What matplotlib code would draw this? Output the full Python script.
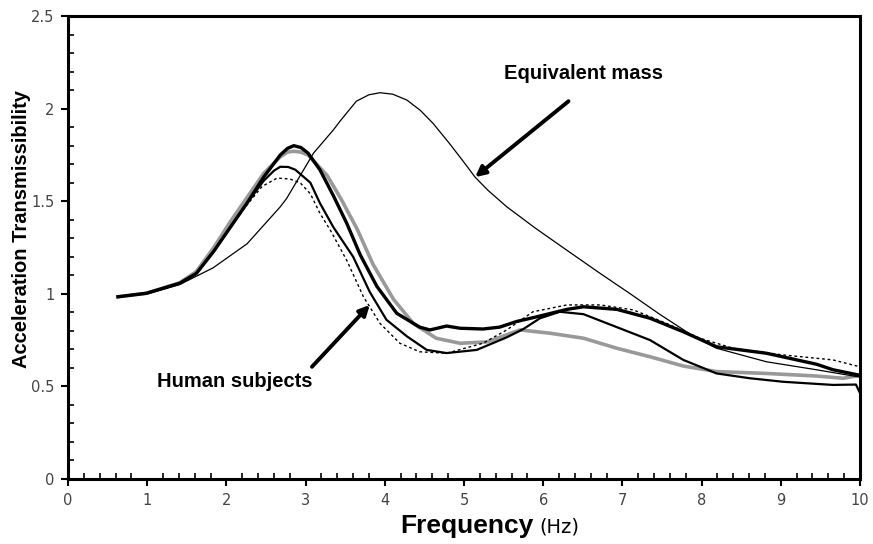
import matplotlib
matplotlib.use('Agg')
import matplotlib.pyplot as plt
from matplotlib.ticker import MultipleLocator

# equivalent mass (thin line)
eq_f = [0.63, 1.0, 1.41, 1.83, 2.26, 2.68, 2.76, 3.10, 3.22, 3.35, 3.43, 3.64, 3.80, 3.94, 4.10, 4.28,
        4.45, 4.61, 4.82, 5.0, 5.14, 5.30, 5.54, 5.90, 6.25, 6.72, 7.10, 7.47, 7.9, 8.19, 8.82, 9.45, 10.0]
eq_t = [0.985, 1.0, 1.05, 1.14, 1.27, 1.47, 1.515, 1.76, 1.82, 1.885, 1.93, 2.04, 2.075, 2.086, 2.078, 2.046,
        1.99, 1.92, 1.81, 1.71, 1.63, 1.56, 1.47, 1.355, 1.25, 1.11, 1.0, 0.89, 0.77, 0.706, 0.633, 0.59, 0.55]

# human subjects
hs1_f = [0.63, 0.99, 1.41, 1.62, 1.84, 2.05, 2.26, 2.47, 2.68, 2.77, 2.85, 2.94, 3.03, 3.18, 3.35, 3.52,
         3.69, 3.90, 4.15, 4.44, 4.57, 4.78, 4.95, 5.24, 5.45, 5.66, 5.92, 6.30, 6.51, 6.93, 7.35, 7.77,
         8.19, 8.82, 9.45, 9.66, 10.0]
hs1_t = [0.984, 1.003, 1.057, 1.11, 1.23, 1.36, 1.49, 1.63, 1.75, 1.785, 1.80, 1.79, 1.76, 1.67, 1.53, 1.38,
         1.21, 1.04, 0.895, 0.82, 0.805, 0.826, 0.814, 0.81, 0.82, 0.85, 0.876, 0.916, 0.93, 0.916, 0.868, 0.795,
         0.714, 0.679, 0.62, 0.59, 0.56]

hs2_f = [0.63, 0.99, 1.41, 1.62, 1.84, 2.05, 2.26, 2.47, 2.60, 2.68, 2.78, 2.87, 3.06, 3.18, 3.35, 3.60,
         3.81, 4.02, 4.28, 4.53, 4.78, 5.16, 5.54, 5.75, 5.96, 6.21, 6.51, 6.93, 7.35, 7.77, 8.19, 8.61,
         9.03, 9.66, 9.95, 10.0]
hs2_t = [0.984, 1.003, 1.057, 1.11, 1.23, 1.36, 1.49, 1.61, 1.665, 1.686, 1.685, 1.67, 1.60, 1.49, 1.36, 1.20,
         1.01, 0.86, 0.77, 0.697, 0.68, 0.697, 0.765, 0.81, 0.868, 0.903, 0.89, 0.82, 0.75, 0.643, 0.57, 0.544,
         0.525, 0.508, 0.51, 0.465]

hs3_f = [0.63, 0.99, 1.41, 1.62, 1.84, 2.05, 2.26, 2.47, 2.68, 2.77, 2.85, 2.94, 3.03, 3.27, 3.45, 3.65,
         3.85, 4.11, 4.36, 4.65, 4.95, 5.29, 5.71, 6.09, 6.51, 6.93, 7.35, 7.77, 8.19, 8.82, 9.45, 9.79, 10.0]
hs3_t = [0.984, 1.003, 1.06, 1.12, 1.25, 1.39, 1.52, 1.65, 1.74, 1.765, 1.77, 1.765, 1.75, 1.64, 1.51, 1.35,
         1.16, 0.97, 0.84, 0.76, 0.733, 0.74, 0.805, 0.787, 0.76, 0.706, 0.66, 0.61, 0.58, 0.57, 0.556, 0.544, 0.56]

hs4_f = [0.63, 0.99, 1.41, 1.62, 1.84, 2.05, 2.26, 2.45, 2.64, 2.80, 2.93, 3.06, 3.18, 3.31, 3.52, 3.73,
         3.94, 4.19, 4.44, 4.78, 5.24, 5.54, 5.87, 6.3, 6.72, 7.14, 7.56, 7.98, 8.4, 9.03, 9.66, 10.0]
hs4_t = [0.984, 1.003, 1.057, 1.11, 1.23, 1.36, 1.48, 1.58, 1.625, 1.62, 1.60, 1.54, 1.435, 1.345, 1.18, 0.984,
         0.84, 0.733, 0.687, 0.679, 0.733, 0.805, 0.903, 0.94, 0.94, 0.913, 0.84, 0.76, 0.706, 0.67, 0.643, 0.606]

xticks = [0, 1, 2, 3, 4, 5, 6, 7, 8, 9, 10]
yticks = [0, 0.5, 1, 1.5, 2, 2.5]
ytick_labels = ['0', '0.5', '1', '1.5', '2', '2.5']

fig = plt.figure(figsize=(8.73, 5.44), dpi=100)
ax = fig.add_axes([0.078, 0.1195, 0.907, 0.851])

ax.plot(hs3_f, hs3_t, color='#999999', lw=2.6, zorder=2)
ax.plot(hs4_f, hs4_t, color='black', lw=1.0, ls=(0, (2, 2)), zorder=3)
ax.plot(hs2_f, hs2_t, color='black', lw=1.6, zorder=3)
ax.plot(hs1_f, hs1_t, color='black', lw=2.4, zorder=4)
ax.plot(eq_f, eq_t, color='black', lw=0.9, zorder=4)

ax.set_xlim(0, 10)
ax.set_ylim(0, 2.5)
ax.set_xticks(xticks)
ax.set_yticks(yticks)
ax.set_yticklabels(ytick_labels)
ax.xaxis.set_minor_locator(MultipleLocator(0.2))
ax.yaxis.set_minor_locator(MultipleLocator(0.1))
ax.tick_params(which='major', direction='out', length=5, width=1.5, labelsize=10.5,
               labelcolor='#444444', pad=5)
ax.tick_params(which='minor', direction='in', length=4, width=1.2)
for lab in ax.get_xticklabels() + ax.get_yticklabels():
    lab.set_family(['Liberation Sans Narrow', 'DejaVu Sans'])
for s in ax.spines.values():
    s.set_linewidth(2.2)

arrow = dict(arrowstyle='-|>,head_length=0.6,head_width=0.3', color='black', lw=2.8,
             shrinkA=0, shrinkB=0)
ax.annotate('', xy=(5.14, 1.63), xytext=(6.32, 2.04), arrowprops=arrow)
ax.text(6.51, 2.19, 'Equivalent mass', ha='center', va='center', fontsize=14.5,
        fontweight='bold', family='Liberation Sans')
ax.annotate('', xy=(3.81, 0.94), xytext=(3.08, 0.606), arrowprops=arrow)
ax.text(2.11, 0.525, 'Human subjects', ha='center', va='center', fontsize=14.5,
        fontweight='bold', family='Liberation Sans')

fig.text(22 / 873, 1 - 229 / 544, 'Acceleration Transmissibility', rotation=90, ha='center',
         va='center', fontsize=14.5, fontweight='bold', family='Liberation Sans')
fig.text(400 / 873, 1 - 526 / 544, 'Frequency', ha='left', va='center', fontsize=19,
         fontweight='bold', family='Liberation Sans')
fig.text(539 / 873, 1 - 527 / 544, '(Hz)', ha='left', va='center', fontsize=14,
         family='Liberation Sans Narrow')

fig.savefig('out.png', dpi=100)
